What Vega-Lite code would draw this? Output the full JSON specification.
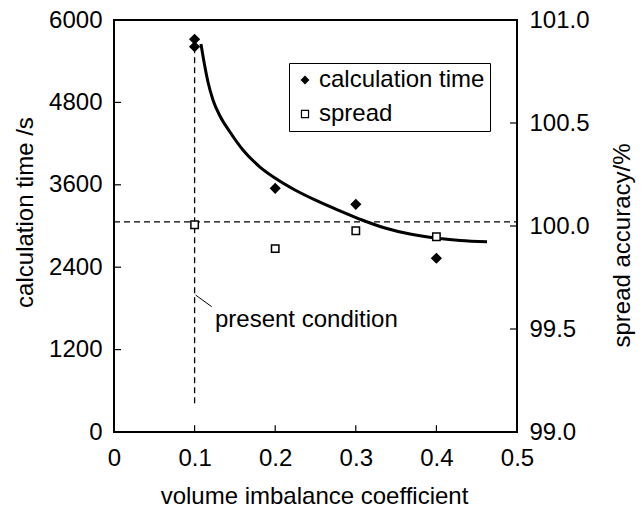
{
  "$schema": "https://vega.github.io/schema/vega-lite/v6.json",
  "width": 403,
  "height": 412,
  "autosize": {"type": "none"},
  "padding": {"left": 114, "top": 20, "right": 125, "bottom": 78},
  "background": "white",
  "config": {
    "font": "Liberation Sans",
    "view": {"stroke": "black", "strokeWidth": 2},
    "axis": {
      "grid": false,
      "domain": false,
      "ticks": false,
      "labelFlush": false,
      "labelFont": "Liberation Sans",
      "labelFontSize": 24,
      "labelColor": "black",
      "titleFont": "Liberation Sans",
      "titleFontSize": 24,
      "titleFontWeight": "normal",
      "titleColor": "black"
    },
    "legend": {
      "orient": "none",
      "legendX": 175,
      "legendY": 43,
      "strokeColor": "black",
      "strokeWidth": 1,
      "fillColor": "white",
      "padding": 5,
      "labelFont": "Liberation Sans",
      "labelFontSize": 24,
      "labelColor": "black",
      "labelLimit": 400,
      "labelOffset": 2,
      "symbolOffset": -1,
      "rowPadding": 10,
      "symbolSize": 50,
      "symbolStrokeWidth": 1.2
    }
  },
  "layer": [
    {
      "encoding": {
        "x": {
          "field": "x",
          "type": "quantitative",
          "scale": {"domain": [0, 0.5], "nice": false, "zero": false},
          "axis": {
            "values": [0, 0.1, 0.2, 0.3, 0.4, 0.5],
            "labelExpr": "datum.value == 0 ? '0' : format(datum.value, '.1f')",
            "labelFlush": false,
            "labelPadding": 33,
            "labelBaseline": "alphabetic",
            "title": "volume imbalance coefficient",
            "titleX": 200,
            "titleY": 71,
            "titleBaseline": "alphabetic",
            "titleAnchor": null
          }
        },
        "y": {
          "field": "y",
          "type": "quantitative",
          "scale": {"domain": [0, 6000], "nice": false, "zero": false},
          "axis": {
            "orient": "left",
            "values": [0, 1200, 2400, 3600, 4800, 6000],
            "format": "d",
            "labelFlush": false,
            "labelPadding": 12,
            "title": "calculation time /s",
            "titleAngle": -90,
            "titleX": -89,
            "titleY": 192,
            "titleBaseline": "middle",
            "titleAlign": "center"
          }
        }
      },
      "layer": [
        {
          "data": {"values": [
            {"x": 0.1, "y": 0, "y2": 100},
            {"x": 0.2, "y": 0, "y2": 100},
            {"x": 0.3, "y": 0, "y2": 100},
            {"x": 0.4, "y": 0, "y2": 100}
          ]},
          "mark": {"type": "rule", "color": "black", "strokeWidth": 1.2},
          "encoding": {"y2": {"field": "y2"}}
        },
        {
          "data": {"values": [
            {"x": 0, "x2": 0.0087, "y": 1200},
            {"x": 0, "x2": 0.0087, "y": 2400},
            {"x": 0, "x2": 0.0087, "y": 3600},
            {"x": 0, "x2": 0.0087, "y": 4800}
          ]},
          "mark": {"type": "rule", "color": "black", "strokeWidth": 1.2},
          "encoding": {"x2": {"field": "x2"}}
        },
        {
          "data": {"values": [{"x": 0, "x2": 0.5, "y": 3060}]},
          "mark": {"type": "rule", "color": "black", "strokeWidth": 1.3, "strokeDash": [6, 4]},
          "encoding": {"x2": {"field": "x2"}}
        },
        {
          "data": {"values": [{"x": 0.1, "y": 420, "y2": 5540}]},
          "mark": {"type": "rule", "color": "black", "strokeWidth": 1.3, "strokeDash": [6, 4]},
          "encoding": {"y2": {"field": "y2"}}
        },
        {
          "data": {"values": [{"x": 0.1012, "y": 1995, "x2": 0.1212, "y2": 1825}]},
          "mark": {"type": "rule", "color": "black", "strokeWidth": 1},
          "encoding": {"x2": {"field": "x2"}, "y2": {"field": "y2"}}
        },
        {
          "data": {"values": [{"x": 0.1253, "y": 1533, "label": "present condition"}]},
          "mark": {"type": "text", "align": "left", "baseline": "alphabetic", "fontSize": 24, "font": "Liberation Sans", "color": "black"},
          "encoding": {"text": {"field": "label"}}
        },
        {
          "data": {"values": [
            {"x": 0.1079, "y": 5650},
            {"x": 0.1117, "y": 5388},
            {"x": 0.1166, "y": 5097},
            {"x": 0.1228, "y": 4835},
            {"x": 0.1315, "y": 4602},
            {"x": 0.1439, "y": 4369},
            {"x": 0.1600, "y": 4107},
            {"x": 0.1811, "y": 3859},
            {"x": 0.1998, "y": 3699},
            {"x": 0.2246, "y": 3524},
            {"x": 0.2494, "y": 3379},
            {"x": 0.2804, "y": 3219},
            {"x": 0.3077, "y": 3087},
            {"x": 0.3362, "y": 2971},
            {"x": 0.3672, "y": 2883},
            {"x": 0.3983, "y": 2825},
            {"x": 0.4293, "y": 2789},
            {"x": 0.4628, "y": 2771}
          ]},
          "mark": {"type": "line", "color": "black", "strokeWidth": 3, "interpolate": "monotone"}
        },
        {
          "data": {"values": [
            {"x": 0.1, "y": 5720, "series": "calculation time"},
            {"x": 0.1, "y": 5610, "series": "calculation time"},
            {"x": 0.2, "y": 3549, "series": "calculation time"},
            {"x": 0.3, "y": 3316, "series": "calculation time"},
            {"x": 0.4, "y": 2530, "series": "calculation time"}
          ]},
          "mark": {"type": "point", "filled": true, "size": 90, "stroke": "black", "strokeWidth": 1.2, "opacity": 1},
          "encoding": {
            "shape": {"field": "series", "type": "nominal", "scale": {"domain": ["calculation time", "spread"], "range": ["diamond", "square"]}, "legend": {"title": null}},
            "fill": {"field": "series", "type": "nominal", "scale": {"domain": ["calculation time", "spread"], "range": ["black", "white"]}, "legend": {"title": null}}
          }
        }
      ]
    },
    {
      "encoding": {
        "x": {
          "field": "x",
          "type": "quantitative",
          "scale": {"domain": [0, 0.5], "nice": false, "zero": false},
          "axis": {
            "values": [0, 0.1, 0.2, 0.3, 0.4, 0.5],
            "labelExpr": "datum.value == 0 ? '0' : format(datum.value, '.1f')",
            "labelFlush": false,
            "labelPadding": 33,
            "labelBaseline": "alphabetic",
            "title": "volume imbalance coefficient",
            "titleX": 200,
            "titleY": 71,
            "titleBaseline": "alphabetic",
            "titleAnchor": null
          }
        },
        "y": {
          "field": "s",
          "type": "quantitative",
          "scale": {"domain": [99, 101], "nice": false, "zero": false},
          "axis": {
            "orient": "right",
            "values": [99, 99.5, 100, 100.5, 101],
            "format": ".1f",
            "labelFlush": false,
            "labelPadding": 12,
            "title": "spread accuracy/%",
            "titleAngle": -90,
            "titleX": 105,
            "titleY": 225,
            "titleBaseline": "middle",
            "titleAlign": "center"
          }
        }
      },
      "layer": [
        {
          "data": {"values": [
            {"x": 0.4913, "x2": 0.5, "s": 99.5},
            {"x": 0.4913, "x2": 0.5, "s": 100},
            {"x": 0.4913, "x2": 0.5, "s": 100.5}
          ]},
          "mark": {"type": "rule", "color": "black", "strokeWidth": 1.2},
          "encoding": {"x2": {"field": "x2"}}
        },
        {
          "data": {"values": [
            {"x": 0.1, "s": 100.006, "series": "spread"},
            {"x": 0.2, "s": 99.89, "series": "spread"},
            {"x": 0.3, "s": 99.977, "series": "spread"},
            {"x": 0.4, "s": 99.948, "series": "spread"}
          ]},
          "mark": {"type": "point", "filled": true, "size": 55, "stroke": "black", "strokeWidth": 1.5, "opacity": 1},
          "encoding": {
            "shape": {"field": "series", "type": "nominal", "scale": {"domain": ["calculation time", "spread"], "range": ["diamond", "square"]}, "legend": {"title": null}},
            "fill": {"field": "series", "type": "nominal", "scale": {"domain": ["calculation time", "spread"], "range": ["black", "white"]}, "legend": {"title": null}}
          }
        }
      ]
    }
  ],
  "resolve": {"scale": {"y": "independent"}, "axis": {"y": "independent"}}
}
